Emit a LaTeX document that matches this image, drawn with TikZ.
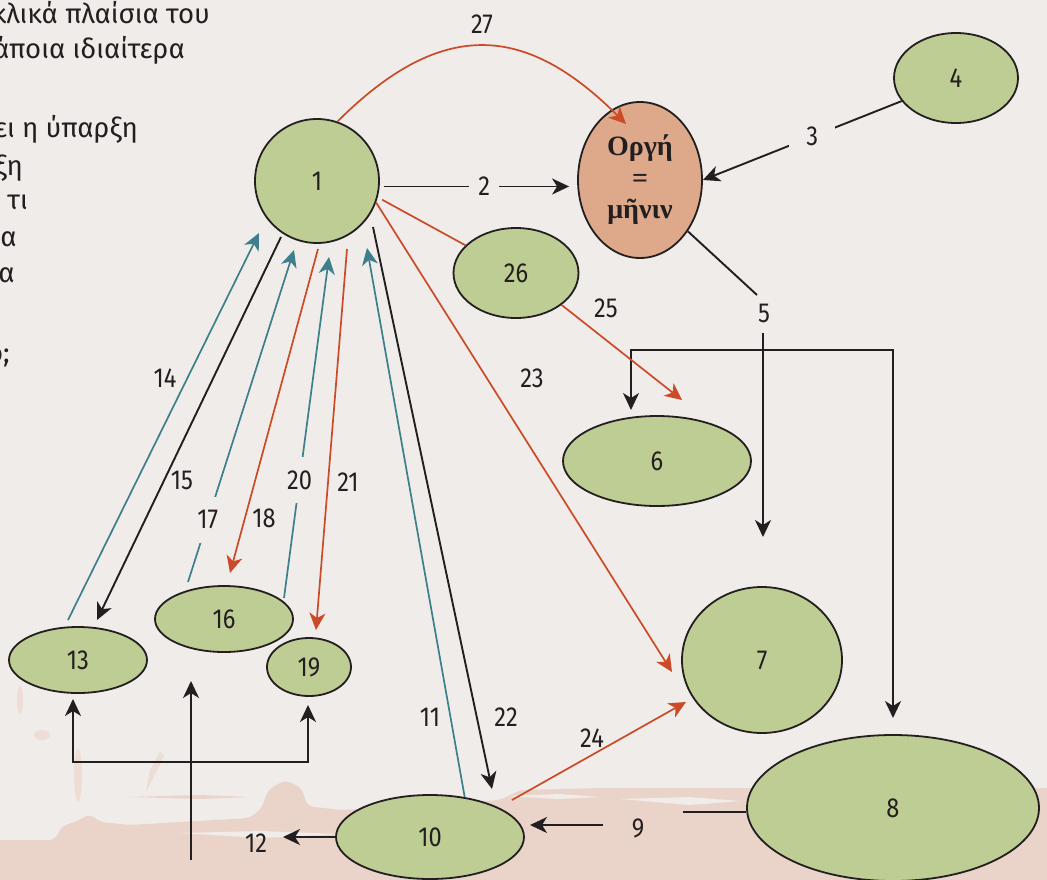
\documentclass[tikz,border=0pt]{standalone}
\usepackage{fontspec}
\setmainfont{Fira Sans}[FakeStretch=0.86]
\newfontfamily\parafont{Fira Sans}
\newfontfamily\orgfont{Liberation Serif}
\usetikzlibrary{arrows.meta,shapes.geometric,calc}
\definecolor{bgc}{HTML}{F0ECE9}
\definecolor{pinkc}{HTML}{EAD4C9}
\definecolor{pinkl}{HTML}{EDDDD4}
\definecolor{greenc}{HTML}{BDCD93}
\definecolor{orgc}{HTML}{DDA98A}
\definecolor{tealc}{HTML}{3D7F8B}
\definecolor{redc}{HTML}{CB4A27}
\definecolor{dark}{HTML}{231F20}
\begin{document}
\begin{tikzpicture}[x=1pt,y=-1pt,
  every node/.style={font=\fontsize{27.5}{32}\selectfont, text=dark},
  nd/.style={ellipse, draw=dark, line width=1.8pt, fill=greenc, inner sep=0pt},
  arr/.style={-{Stealth[length=17pt,width=16pt,inset=5pt]}},
  darr/.style={{Stealth[length=17pt,width=16pt,inset=5pt]}-{Stealth[length=17pt,width=16pt,inset=5pt]}},
  bl/.style={draw=dark, line width=1.9pt},
  rd/.style={draw=redc, line width=1.7pt},
  tl/.style={draw=tealc, line width=1.7pt},
  gap/.style={fill=bgc, inner sep=2pt},
  lab/.style={inner sep=0pt},
  para/.style={anchor=base east, inner sep=0pt, font=\parafont\fontsize{27.5}{32}\selectfont}]
\useasboundingbox (0,0) rectangle (1047,879);
\fill[bgc] (0,0) rectangle (1047,879);
\begin{scope}
\clip (0,0) rectangle (1047,879);
% brush background
\fill[pinkc, rounded corners=6pt] (-10,840) -- (55,840) -- (62,826) -- (75,822) -- (90,814) -- (100,822) -- (130,825) -- (180,822) -- (250,818) -- (262,808) -- (268,790) -- (285,780) -- (302,788) -- (307,806) -- (340,810) -- (420,806) -- (500,800) -- (520,790) -- (600,788) -- (740,788) -- (900,790) -- (1060,788) -- (1060,890) -- (-10,890) -- cycle;
\fill[bgc] (180,833) -- (260,831) -- (340,834) -- (260,838) -- cycle;
\fill[bgc] (505,796) -- (560,794) -- (600,797) -- (560,799) -- cycle;
\fill[bgc] (620,799) -- (690,797) -- (740,801) -- (690,805) -- cycle;
\fill[bgc] (390,812) -- (450,809) -- (500,812) -- (450,814) -- cycle;
\fill[pinkc] (130,797) -- (200,795) -- (250,797) -- (200,799) -- cycle;
\fill[pinkl] (20,700) ellipse (3 and 14);
\fill[pinkl] (78,775) ellipse (4 and 26);
\fill[pinkl] (150,770) -- (160,752) -- (164,756) -- (146,792) -- cycle;
\fill[pinkl] (42,735) ellipse (8 and 5);
% top-left paragraph
\node[para] (p1) at (210,23) {κλικά πλαίσια του};
\node[para] (p2) at (185,58) {κάποια ιδιαίτερα};
\node[para] (p4) at (138,137) {ει η ύπαρξη};
\node[para] (p5) at (23,175) {ξη};
\node[para] (p6) at (28,209) {κ τι};
\node[para] (p7) at (17,246) {ία};
\node[para] (p8) at (15,282) {α};
\node[para] (p10) at (10,362) {ο;};
\end{scope}
% nodes
\node[nd, minimum width=124pt, minimum height=124pt] (n1) at (317,181) {1};
\node[ellipse, draw=dark, line width=1.8pt, fill=orgc, inner sep=0pt, minimum width=124pt, minimum height=156pt, align=center, font=\orgfont\bfseries\fontsize{28}{31.5}\selectfont] (orgi) at (640,180) {Οργή\\=\\μῆνιν};
\node[nd, minimum width=124pt, minimum height=90pt] (n4) at (956,78) {4};
\node[nd, minimum width=125pt, minimum height=90pt] (n26) at (516,273) {26};
\node[nd, minimum width=188pt, minimum height=90pt] (n6) at (657,461) {6};
\node[nd, minimum width=160pt, minimum height=146pt] (n7) at (762,660) {7};
\node[nd, minimum width=292pt, minimum height=146pt] (n8) at (893,808) {8};
\node[nd, minimum width=188pt, minimum height=84pt] (n10) at (430,837) {10};
\node[nd, minimum width=138pt, minimum height=66pt] (n13) at (78,660) {13};
\node[nd, minimum width=138pt, minimum height=66pt] (n16) at (224,619) {16};
\node[nd, minimum width=84pt, minimum height=58pt] (n19) at (309,667) {19};
% free ends
\coordinate (t27) at (626,124);
\coordinate (c5a) at (757,295);
\coordinate (c5b) at (763,333);
\coordinate (t5) at (763,537);
\coordinate (b6) at (631,410);
\coordinate (bl6) at (631,350);
\coordinate (br8) at (893,350);
\coordinate (b8) at (893,718);
\coordinate (t25) at (682,400);
\coordinate (t23) at (672,672);
\coordinate (s22) at (373,227);
\coordinate (t22) at (492,789);
\coordinate (t11) at (367,248);
\coordinate (s24) at (512,800);
\coordinate (t24) at (686,702);
\coordinate (t12) at (283,837);
\coordinate (s9) at (683,812);
\coordinate (s9b) at (603,825);
\coordinate (t9) at (530,825);
\coordinate (s14) at (68,620);
\coordinate (t14) at (259,233);
\coordinate (s15) at (281,237);
\coordinate (t15) at (97,620);
\coordinate (s17) at (188,582);
\coordinate (t17) at (294,250);
\coordinate (s18) at (318,249);
\coordinate (t18) at (230,573);
\coordinate (s20) at (284,598);
\coordinate (t20) at (329,257);
\coordinate (s21) at (347,249);
\coordinate (t21) at (316,630);
\coordinate (b13) at (73,699);
\coordinate (bc13) at (73,762);
\coordinate (bc19) at (308,762);
\coordinate (b19) at (308,705);
\coordinate (s16) at (191,860);
\coordinate (t16) at (191,681);
% connectors
\draw[bl, arr, shorten <=4pt, shorten >=8pt] (n1.-5) -- (n1.-5 -| orgi.west) node[gap, pos=0.53, inner xsep=9pt] (l2) {2};
\draw[rd, arr] (n1.71) .. controls (444,15) and (528,26) .. (t27);
\node[lab] (l27) at (482,24) {27};
\draw[bl, arr] (n4.-157) -- (orgi.east) node[gap, pos=0.45, inner xsep=17pt] (l3) {3};
\draw[bl] (orgi.-47) -- (c5a);
\node[lab] (l5) at (764,313) {5};
\draw[bl, arr] (c5b) -- (t5);
\draw[bl, darr] (b6) -- (bl6) -- (br8) -- (b8);
\draw[rd, shorten <=5pt] (n1.-15) -- (n26);
\draw[rd, arr] (n26.-35) -- (t25);
\node[lab] (l25) at (606,308) {25};
\draw[rd, arr] (n1.-20) -- (t23);
\node[lab] (l23) at (532,378) {23};
\draw[bl, arr] (s22) -- (t22);
\node[lab] (l22) at (506,717) {22};
\draw[tl, arr] (n10.49) -- (t11);
\node[lab] (l11) at (430,717) {11};
\draw[rd, arr] (s24) -- (t24);
\node[lab] (l24) at (592,738) {24};
\draw[bl, arr] (n10.west) -- (t12);
\node[lab] (l12) at (256,843) {12};
\draw[bl] (n8.west |- s9) -- (s9);
\draw[bl, arr] (s9b) -- (t9);
\node[lab] (l9) at (638,828) {9};
\draw[tl, arr] (s14) -- (t14);
\node[lab] (l14) at (165,378) {14};
\draw[bl, arr] (s15) -- (t15);
\node[lab] (l15) at (182,480) {15};
\draw[tl, arr] (s17) -- (t17) node[gap, pos=0.187, inner ysep=14pt, inner xsep=2pt] (l17) {17};
\draw[rd, arr] (s18) -- (t18);
\node[lab] (l18) at (264,518) {18};
\draw[tl, arr] (s20) -- (t20) node[gap, pos=0.345, inner ysep=13.5pt, inner xsep=2pt] (l20) {20};
\draw[rd, arr] (s21) -- (t21);
\node[lab] (l21) at (348,482) {21};
\draw[bl, darr] (b13) -- (bc13) -- (bc19) -- (b19);
\draw[bl, arr] (s16) -- (t16);
\end{tikzpicture}
\end{document}
